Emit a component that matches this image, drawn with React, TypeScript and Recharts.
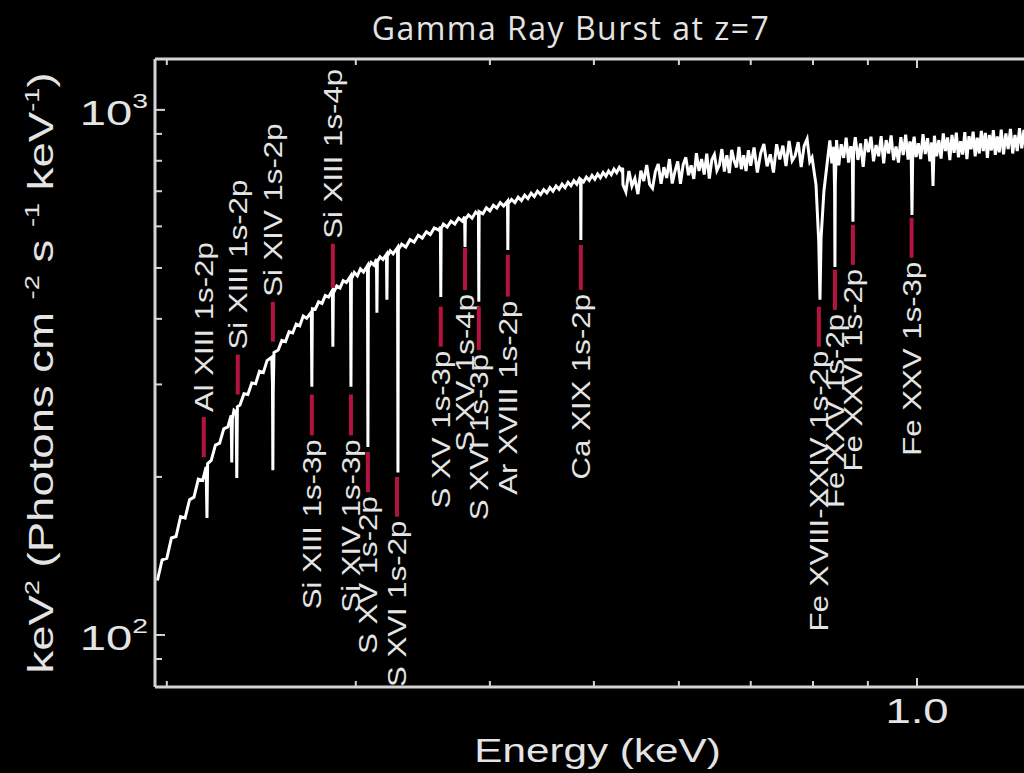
import React from "react";
import { ComposedChart, Line, XAxis, YAxis, ReferenceLine } from "recharts";

// spectrum: [energy (keV), keV^2 photons cm^-2 s^-1 keV^-1]
const spectrumSi: [number, number][] = [
  [0.196, 127], [0.198, 139], [0.2, 140], [0.202, 153], [0.204, 154], [0.206, 168],
  [0.208, 167], [0.21, 181], [0.212, 183], [0.214, 198], [0.216, 197], [0.2176, 209],
  [0.218, 167], [0.2183, 212], [0.22, 215], [0.222, 230], [0.224, 232], [0.226, 247],
  [0.228, 249], [0.2296, 262], [0.2299, 213], [0.2302, 258], [0.231, 268], [0.2321, 266],
  [0.2324, 199], [0.2327, 272], [0.234, 274], [0.236, 288], [0.238, 287], [0.24, 302],
  [0.242, 301], [0.244, 318], [0.246, 316], [0.248, 333], [0.2505, 338], [0.2509, 300],
  [0.2511, 206], [0.2513, 290], [0.2517, 345], [0.254, 349], [0.256, 364], [0.258, 362],
  [0.26, 378], [0.262, 376], [0.264, 391], [0.266, 388], [0.268, 405], [0.27, 401],
  [0.2727, 412], [0.273, 297], [0.2733, 418], [0.275, 417], [0.277, 431], [0.279, 428],
  [0.281, 443], [0.283, 440], [0.2853, 453], [0.2856, 354], [0.2859, 448], [0.288, 462],
  [0.29, 458], [0.292, 473], [0.294, 469], [0.2966, 482], [0.2969, 297], [0.2972, 476],
  [0.299, 490],
];

const spectrumS: [number, number][] = [
  [0.301, 483], [0.303, 498], [0.305, 491], [0.3076, 505], [0.3079, 228], [0.3082, 500],
  [0.31, 512], [0.312, 506], [0.3136, 520], [0.3139, 411], [0.3142, 514], [0.316, 525],
  [0.318, 519], [0.3204, 531], [0.3207, 435], [0.321, 526], [0.323, 539], [0.325, 532],
  [0.3281, 547], [0.3284, 204], [0.3287, 542], [0.331, 555], [0.334, 548], [0.337, 566],
  [0.34, 560], [0.343, 577], [0.346, 570], [0.349, 586], [0.352, 579], [0.355, 596],
  [0.3585, 590], [0.3597, 599], [0.36, 440], [0.3603, 594], [0.362, 606], [0.365, 598],
  [0.368, 614], [0.371, 606], [0.374, 622], [0.377, 614], [0.3789, 626], [0.3792, 548],
  [0.3795, 619], [0.382, 631], [0.385, 622], [0.388, 639], [0.3903, 632], [0.3906, 431],
  [0.3909, 640], [0.394, 634], [0.397, 651], [0.4, 642], [0.403, 658], [0.406, 650],
  [0.409, 666], [0.412, 656], [0.4154, 670], [0.4157, 541], [0.416, 663], [0.419, 675],
  [0.422, 666], [0.425, 682], [0.428, 672], [0.431, 688], [0.434, 678], [0.437, 694],
  [0.44, 684], [0.443, 700], [0.446, 690], [0.449, 705], [0.452, 695], [0.455, 711],
  [0.458, 700], [0.461, 716], [0.464, 706], [0.467, 722], [0.47, 711], [0.473, 728],
  [0.476, 717], [0.479, 733], [0.482, 722], [0.4845, 738], [0.4859, 730], [0.4862, 565],
  [0.4865, 736], [0.489, 729], [0.492, 745], [0.495, 734], [0.498, 750], [0.501, 738],
  [0.504, 755], [0.507, 743], [0.51, 760], [0.513, 748], [0.516, 765], [0.519, 753],
  [0.522, 771], [0.525, 759], [0.528, 777], [0.5305, 766], [0.5318, 776],
];

const spectrumMid: [number, number][] = [
  [0.5322, 720], [0.5355, 698], [0.539, 765], [0.5425, 716], [0.546, 740], [0.5495, 691],
  [0.553, 766], [0.5565, 732], [0.56, 785], [0.5635, 721], [0.567, 709], [0.5705, 763],
  [0.574, 789], [0.5775, 723], [0.581, 778], [0.5845, 742], [0.588, 806], [0.5915, 724],
  [0.595, 764], [0.5985, 798], [0.602, 723], [0.6055, 786], [0.609, 812], [0.6125, 751],
  [0.616, 784], [0.6195, 739], [0.623, 827], [0.6265, 765], [0.63, 806], [0.6335, 753],
  [0.637, 825], [0.6405, 740], [0.644, 804], [0.6475, 822], [0.651, 767], [0.6545, 785],
  [0.658, 842], [0.6615, 763], [0.665, 820], [0.6685, 758], [0.672, 839], [0.6755, 800],
  [0.679, 777], [0.6825, 850], [0.686, 771], [0.6895, 820], [0.693, 765], [0.6965, 838],
  [0.7, 783], [0.705, 848], [0.71, 760], [0.715, 826], [0.72, 861], [0.725, 781],
  [0.73, 823], [0.735, 760], [0.74, 860], [0.745, 805], [0.75, 855], [0.755, 782],
  [0.76, 873], [0.765, 800], [0.77, 818], [0.775, 868], [0.78, 778], [0.785, 854],
  [0.79, 880], [0.7945, 797],
];

const spectrumFe: [number, number][] = [
  [0.7984, 812], [0.8052, 720], [0.81, 560], [0.8121, 435], [0.814, 570], [0.819, 700],
  [0.8261, 815], [0.8295, 875], [0.833, 791], [0.8365, 851], [0.838, 700], [0.8386, 502],
  [0.8392, 720], [0.8415, 876], [0.8455, 784], [0.85, 860], [0.8545, 810], [0.859, 885],
  [0.8635, 794], [0.8675, 853], [0.8705, 820], [0.8716, 612], [0.8727, 835], [0.876, 887],
  [0.881, 803], [0.886, 863], [0.891, 779], [0.896, 880], [0.901, 831], [0.906, 889],
  [0.911, 798], [0.916, 857], [0.921, 816], [0.926, 891], [0.931, 791], [0.936, 876],
  [0.941, 826], [0.946, 894], [0.951, 802], [0.956, 852], [0.961, 794], [0.966, 887],
  [0.971, 820], [0.976, 897], [0.981, 804], [0.985, 871], [0.9875, 838], [0.9893, 631],
  [0.9911, 856], [0.994, 889], [0.998, 813], [1.003, 864], [1.008, 806], [1.013, 899],
  [1.018, 824], [1.023, 883], [1.028, 798], [1.032, 867], [1.035, 716], [1.038, 893],
  [1.043, 816], [1.048, 876], [1.053, 808], [1.058, 902], [1.063, 835], [1.068, 886],
  [1.073, 802], [1.078, 896], [1.083, 828], [1.088, 905], [1.093, 812], [1.098, 872],
  [1.103, 822], [1.108, 907], [1.113, 806], [1.118, 891], [1.123, 841], [1.128, 909],
  [1.133, 816], [1.138, 885], [1.143, 826], [1.148, 912], [1.153, 835], [1.158, 904],
  [1.163, 810], [1.168, 896], [1.173, 837], [1.178, 915], [1.183, 821], [1.188, 890],
  [1.193, 830], [1.198, 917], [1.204, 823], [1.21, 902], [1.216, 842], [1.222, 920],
  [1.228, 826], [1.234, 896], [1.24, 835], [1.246, 923], [1.252, 845], [1.258, 916],
  [1.264, 828], [1.27, 908], [1.276, 847], [1.282, 926], [1.288, 839], [1.294, 901],
  [1.3, 858],
];

// identified absorption lines
const lineNames = [
  "Al XIII 1s-2p", "Si XIII 1s-2p", "Si XIV 1s-2p", "Si XIII 1s-4p",
  "Si XIII 1s-3p", "Si XIV 1s-3p", "S XV 1s-2p", "S XVI 1s-2p",
  "S XV 1s-3p", "S XV 1s-4p", "S XVI 1s-3p", "Ar XVIII 1s-2p",
  "Ca XIX 1s-2p", "Fe XVIII-XXIV 1s-2p", "Fe XXV 1s-2p", "Fe XXVI 1s-2p",
  "Fe XXV 1s-3p",
];
const lineEnergy = [
  0.2165, 0.2329, 0.2511, 0.2856, 0.273, 0.2969, 0.3079, 0.3277, 0.36, 0.3792,
  0.3906, 0.4157, 0.4862, 0.8102, 0.8386, 0.8716, 0.9885,
];
const markerLow = [218, 287, 362, 458, 240, 240, 187, 168, 354, 454, 349, 441, 454, 354, 416, 507, 523];
const markerHigh = [260, 342, 431, 556, 287, 287, 223, 200, 422, 546, 422, 530, 553, 422, 496, 604, 623];
const labelAbove = [true, true, true, true, false, false, false, false, false, false, false, false, false, false, false, false, false];

const xTicks = [0.2, 0.3, 0.4, 0.5, 0.6, 0.7, 0.8, 0.9, 1.0];
const yTicks = [90, 100, 200, 300, 400, 500, 600, 700, 800, 900, 1000];

const data = [...spectrumSi, ...spectrumS, ...spectrumMid, ...spectrumFe].map(([e, f]) => ({ e, f }));

const AXIS = "#d4d4d4";
const TEXT = "#e4e4e4";
const RED = "#b3133f";
const FONT = "'Liberation Sans', Arial, sans-serif";

const YTick = (props: any) => {
  const { x, y, payload } = props;
  const v = payload.value;
  const major = v === 100 || v === 1000;
  return (
    <g>
      <line x1={x} x2={x + (major ? 10 : 7)} y1={y} y2={y} stroke={AXIS} strokeWidth={2} />
      {major && (
        <text
          transform={`translate(${x - 7},${y + 15}) scale(1.35,1)`}
          textAnchor="end"
          fill={TEXT}
          fontSize={35}
          fontFamily={FONT}
        >
          10
          <tspan fontSize={21} dy={-17}>{v === 100 ? "2" : "3"}</tspan>
        </text>
      )}
    </g>
  );
};

const XTick = (props: any) => {
  const { x, y, payload } = props;
  const major = payload.value === 1;
  return (
    <g>
      <line x1={x} x2={x} y1={y} y2={y - (major ? 9 : 6)} stroke={AXIS} strokeWidth={2} />
      {major && (
        <text
          transform={`translate(${x},${y + 36}) scale(1.3,1)`}
          textAnchor="middle"
          fill={TEXT}
          fontSize={35}
          fontFamily={FONT}
        >
          1.0
        </text>
      )}
    </g>
  );
};

const TopTick = (props: any) => {
  const { x, y, payload } = props;
  const major = payload.value === 1;
  return <line x1={x} x2={x} y1={y} y2={y + (major ? 9 : 6)} stroke={AXIS} strokeWidth={2} />;
};

const YLabel = (props: any) => {
  const vb = props.viewBox;
  const cx = vb.x + vb.width - 102;
  const cy = vb.y + vb.height / 2;
  return (
    <text
      transform={`translate(${cx},${cy}) rotate(-90) scale(1.3,1)`}
      textAnchor="middle"
      fill={TEXT}
      fontSize={35}
      fontFamily={FONT}
    >
      keV
      <tspan fontSize={21} dy={-14}>2</tspan>
      <tspan dy={14}>{" (Photons cm "}</tspan>
      <tspan fontSize={21} dy={-14}>-2</tspan>
      <tspan dy={14}>{" s "}</tspan>
      <tspan fontSize={21} dy={-14}>-1</tspan>
      <tspan dy={14}>{" keV"}</tspan>
      <tspan fontSize={21} dy={-14}>-1</tspan>
      <tspan dy={14}>{")"}</tspan>
    </text>
  );
};

const XLabel = (props: any) => {
  const vb = props.viewBox;
  return (
    <text
      transform={`translate(${vb.x + vb.width / 2},${vb.y + 75}) scale(1.28,1)`}
      textAnchor="middle"
      fill={TEXT}
      fontSize={33}
      fontFamily={FONT}
    >
      Energy (keV)
    </text>
  );
};

const LineTag = (props: any) => {
  const { x1, y1, x2, y2, name, above } = props;
  const top = Math.min(y1, y2);
  const bottom = Math.max(y1, y2);
  const ty = above ? top - 5 : bottom + 4;
  return (
    <g>
      <line x1={x1} x2={x2} y1={y1} y2={y2} stroke={RED} strokeWidth={4} />
      <text
        transform={`translate(${x1},${ty}) rotate(-90) scale(1.2,1)`}
        dy="0.36em"
        textAnchor={above ? "start" : "end"}
        fill={TEXT}
        fontSize={26}
        fontFamily={FONT}
      >
        {name}
      </text>
    </g>
  );
};

export default function App() {
  return (
    <div
      style={{
        position: "absolute",
        left: 0,
        top: 0,
        width: 1024,
        height: 773,
        overflow: "hidden",
        background: "#000",
      }}
    >
      <svg width={1024} height={56} style={{ position: "absolute", left: 0, top: 0, zIndex: 2 }}>
        <text x={571} y={40} textAnchor="middle" fill={TEXT} fontSize={32} fontFamily="'Open Sans', sans-serif" letterSpacing={1.5}>
          Gamma Ray Burst at z=7
        </text>
      </svg>
      <ComposedChart
        width={1060}
        height={773}
        data={data}
        margin={{ top: 58, right: 20, bottom: 85, left: 154 }}
      >
        <XAxis
          dataKey="e"
          type="number"
          scale="log"
          domain={[0.195, 1.302]}
          allowDataOverflow
          ticks={xTicks}
          interval={0}
          height={1}
          tickSize={0}
          tickMargin={0}
          tickLine={false}
          tick={<XTick />}
          axisLine={{ stroke: AXIS, strokeWidth: 3 }}
          label={XLabel}
        />
        <XAxis
          xAxisId="top"
          orientation="top"
          dataKey="e"
          type="number"
          scale="log"
          domain={[0.195, 1.302]}
          allowDataOverflow
          ticks={xTicks}
          interval={0}
          height={1}
          tickSize={0}
          tickMargin={0}
          tickLine={false}
          tick={<TopTick />}
          axisLine={{ stroke: AXIS, strokeWidth: 3 }}
        />
        <YAxis
          type="number"
          scale="log"
          domain={[79.6, 1250]}
          allowDataOverflow
          ticks={yTicks}
          interval={0}
          width={1}
          tickSize={0}
          tickMargin={0}
          tickLine={false}
          tick={<YTick />}
          axisLine={{ stroke: AXIS, strokeWidth: 3 }}
          label={YLabel}
        />
        <Line
          dataKey="f"
          type="linear"
          stroke="#ffffff"
          strokeWidth={3}
          dot={false}
          activeDot={false}
          isAnimationActive={false}
        />
        {lineNames.map((name, i) => (
          <ReferenceLine
            key={name}
            segment={[
              { x: lineEnergy[i], y: markerLow[i] },
              { x: lineEnergy[i], y: markerHigh[i] },
            ]}
            shape={(p: any) => <LineTag {...p} name={name} above={labelAbove[i]} />}
          />
        ))}
      </ComposedChart>
    </div>
  );
}
